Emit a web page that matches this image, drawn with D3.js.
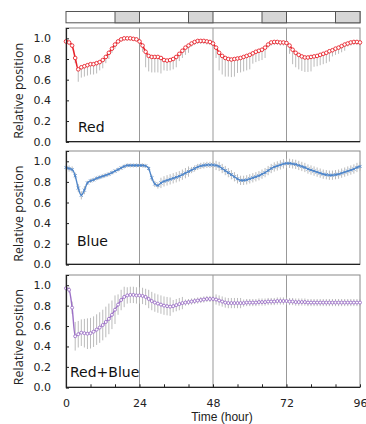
<!DOCTYPE html>
<html><head><meta charset="utf-8">
<script src="https://cdn.jsdelivr.net/npm/d3@7"></script>
<style>html,body{margin:0;padding:0;background:#fff;}svg{display:block;}</style>
</head><body>
<script>
const hours = d3.range(0, 97);
const xTicks = [0, 24, 48, 72, 96];
const yTicks = [0, 0.2, 0.4, 0.6, 0.8, 1.0];
const darkPeriods = [[16, 24], [40, 48], [64, 72], [88, 96]];
const panelNames = ["Red", "Blue", "Red+Blue"];

const redValues = [0.97,0.96,0.93,0.81,0.70,0.72,0.73,0.74,0.75,0.75,0.76,0.77,0.79,0.82,0.86,0.90,0.94,0.97,0.99,1.0,1.0,1.0,0.995,0.99,0.97,
0.93,0.87,0.83,0.82,0.82,0.82,0.81,0.79,0.785,0.79,0.80,0.82,0.85,0.88,0.91,0.93,0.95,0.965,0.975,0.975,0.975,0.97,0.965,0.95,
0.91,0.86,0.83,0.81,0.80,0.795,0.80,0.805,0.81,0.82,0.83,0.84,0.855,0.87,0.88,0.89,0.91,0.94,0.96,0.965,0.965,0.96,0.96,0.955,
0.93,0.89,0.86,0.84,0.825,0.815,0.815,0.82,0.825,0.83,0.84,0.85,0.86,0.875,0.885,0.90,0.91,0.925,0.94,0.95,0.96,0.965,0.965,0.96];
const redErr = [0.02,0.02,0.02,0.05,0.12,0.10,0.10,0.10,0.10,0.10,0.10,0.08,0.08,0.06,0.06,0.04,0.04,0.02,0.02,0.02,0.02,0.02,0.02,0.02,0.02,
0.06,0.15,0.15,0.15,0.15,0.15,0.15,0.10,0.10,0.10,0.10,0.10,0.07,0.07,0.07,0.07,0.03,0.03,0.03,0.03,0.03,0.03,0.03,0.03,
0.10,0.17,0.18,0.18,0.17,0.17,0.17,0.14,0.14,0.14,0.14,0.14,0.10,0.10,0.10,0.10,0.10,0.03,0.03,0.03,0.03,0.03,0.03,0.03,
0.08,0.14,0.14,0.14,0.14,0.14,0.14,0.14,0.10,0.10,0.10,0.10,0.10,0.10,0.06,0.06,0.06,0.06,0.06,0.03,0.03,0.03,0.03,0.03];

const blueValues = [0.94,0.93,0.92,0.86,0.74,0.67,0.72,0.79,0.81,0.82,0.835,0.845,0.855,0.865,0.875,0.89,0.905,0.92,0.935,0.95,0.96,0.96,0.96,0.96,0.96,
0.96,0.955,0.93,0.84,0.78,0.765,0.79,0.805,0.815,0.825,0.835,0.845,0.855,0.87,0.885,0.90,0.915,0.93,0.945,0.955,0.96,0.965,0.965,0.965,
0.96,0.95,0.93,0.91,0.89,0.87,0.85,0.83,0.815,0.815,0.82,0.83,0.84,0.85,0.86,0.875,0.89,0.91,0.93,0.945,0.955,0.965,0.975,0.98,
0.98,0.975,0.97,0.96,0.95,0.94,0.925,0.915,0.905,0.895,0.885,0.875,0.87,0.865,0.865,0.87,0.875,0.885,0.895,0.905,0.915,0.925,0.94,0.95];
const blueErr = [0.03,0.03,0.03,0.03,0.04,0.04,0.04,0.02,0.02,0.02,0.02,0.02,0.02,0.02,0.02,0.02,0.02,0.02,0.02,0.02,0.02,0.02,0.02,0.02,0.02,
0.02,0.02,0.02,0.03,0.03,0.03,0.05,0.05,0.05,0.05,0.05,0.05,0.05,0.05,0.05,0.05,0.03,0.03,0.03,0.03,0.03,0.03,0.03,0.03,
0.045,0.045,0.045,0.045,0.045,0.045,0.045,0.045,0.045,0.045,0.045,0.045,0.045,0.045,0.045,0.045,0.045,0.045,0.045,0.045,0.045,0.045,0.045,0.045,
0.045,0.045,0.045,0.045,0.045,0.045,0.045,0.045,0.045,0.045,0.045,0.045,0.045,0.045,0.045,0.045,0.045,0.045,0.045,0.045,0.045,0.045,0.045,0.045];

const mixValues = [0.97,0.955,0.78,0.50,0.52,0.535,0.53,0.525,0.53,0.545,0.565,0.585,0.61,0.64,0.67,0.71,0.76,0.81,0.855,0.885,0.90,0.905,0.905,0.90,0.90,
0.895,0.885,0.865,0.845,0.83,0.82,0.81,0.80,0.795,0.79,0.795,0.805,0.815,0.825,0.83,0.835,0.84,0.845,0.85,0.855,0.86,0.865,0.865,0.865,
0.86,0.85,0.84,0.83,0.825,0.825,0.825,0.825,0.825,0.825,0.83,0.83,0.83,0.83,0.835,0.835,0.835,0.84,0.84,0.84,0.845,0.845,0.845,0.845,
0.84,0.84,0.835,0.835,0.835,0.835,0.83,0.83,0.83,0.83,0.83,0.83,0.83,0.83,0.83,0.83,0.83,0.83,0.83,0.83,0.83,0.83,0.83,0.83];
const mixErr = [0.02,0.03,0.06,0.14,0.13,0.13,0.14,0.15,0.15,0.15,0.15,0.15,0.15,0.15,0.15,0.14,0.14,0.10,0.10,0.10,0.08,0.08,0.08,0.08,0.08,
0.08,0.08,0.09,0.09,0.09,0.09,0.09,0.09,0.09,0.09,0.06,0.06,0.06,0.06,0.03,0.03,0.03,0.03,0.03,0.03,0.03,0.03,0.03,0.03,
0.05,0.05,0.05,0.05,0.05,0.05,0.05,0.05,0.05,0.035,0.035,0.035,0.035,0.035,0.035,0.035,0.035,0.035,0.035,0.035,0.035,0.035,0.035,0.035,
0.035,0.035,0.035,0.035,0.035,0.035,0.035,0.035,0.035,0.035,0.035,0.035,0.035,0.035,0.035,0.035,0.035,0.035,0.035,0.035,0.035,0.035,0.035,0.035];

const W = 366, H = 424;
const svg = d3.select("body").append("svg").attr("width", W).attr("height", H)
  .style("font-family", "'DejaVu Sans', sans-serif");

const x = d3.scaleLinear().domain([0, 96]).range([66, 360]);

// light/dark bar
const barTop = 11.5, barH = 11.3;
svg.append("rect").attr("x", x(0)).attr("y", barTop).attr("width", x(96) - x(0)).attr("height", barH)
  .attr("fill", "#fff").attr("stroke", "#555").attr("stroke-width", 1);
darkPeriods.forEach(d => {
  svg.append("rect").attr("x", x(d[0])).attr("y", barTop).attr("width", x(d[1]) - x(d[0])).attr("height", barH)
    .attr("fill", "#d6d6d6").attr("stroke", "#555").attr("stroke-width", 1);
});

const panels = [
  {name: panelNames[0], top: 28, bottom: 141.7, values: redValues, err: redErr, lower: true, color: "#e8232b", marker: "circle", labelX: 78, labelY: 132},
  {name: panelNames[1], top: 151, bottom: 264.3, values: blueValues, err: blueErr, lower: false, color: "#4f86c9", marker: "times", labelX: 77, labelY: 246},
  {name: panelNames[2], top: 275, bottom: 387.3, values: mixValues, err: mixErr, lower: false, color: "#9c70c6", marker: "circle", labelX: 70, labelY: 377}
];

panels.forEach((p, pi) => {
  const y = d3.scaleLinear().domain([0, 1.1]).range([p.bottom, p.top]);
  const g = svg.append("g");
  g.append("rect").attr("x", x(0)).attr("y", p.top).attr("width", x(96) - x(0)).attr("height", p.bottom - p.top)
    .attr("fill", "none").attr("stroke", "#8a8a8a").attr("stroke-width", 1);
  [24, 48, 72].forEach(h => {
    g.append("line").attr("x1", x(h)).attr("x2", x(h)).attr("y1", p.top).attr("y2", p.bottom)
      .attr("stroke", "#999").attr("stroke-width", 1);
  });
  g.append("g").selectAll("line").data(hours).join("line")
    .attr("x1", h => x(h)).attr("x2", h => x(h))
    .attr("y1", h => y(p.values[h] - p.err[h]))
    .attr("y2", h => p.lower ? y(p.values[h]) : y(p.values[h] + p.err[h]))
    .attr("stroke", "#b3b3b3").attr("stroke-width", 0.9);
  g.append("path").datum(hours)
    .attr("d", d3.line().x(h => x(h)).y(h => y(p.values[h])).curve(d3.curveMonotoneX))
    .attr("fill", "none").attr("stroke", p.color).attr("stroke-width", pi === 0 ? 1.6 : 1.4);
  if (p.marker === "circle") {
    g.append("g").selectAll("circle").data(hours).join("circle")
      .attr("cx", h => x(h)).attr("cy", h => y(p.values[h])).attr("r", pi === 0 ? 1.8 : 1.5)
      .attr("fill", "#fff").attr("stroke", p.color).attr("stroke-width", 0.9);
  } else {
    const sym = d3.symbol().type(d3.symbolTimes).size(7);
    g.append("g").selectAll("path").data(hours).join("path")
      .attr("transform", h => `translate(${x(h)},${y(p.values[h])})`)
      .attr("d", sym).attr("fill", "none").attr("stroke", p.color).attr("stroke-width", 0.9);
  }
  const ya = g.append("g").attr("transform", `translate(${x(0)},0)`)
    .call(d3.axisLeft(y).tickValues(yTicks).tickFormat(d3.format(".1f")).tickSize(-3).tickPadding(15));
  ya.select(".domain").attr("stroke", "#222").attr("stroke-width", 1.2);
  ya.selectAll(".tick line").attr("stroke", "#222");
  ya.selectAll(".tick text").attr("font-size", 11).attr("fill", "#222").style("font-family", "'DejaVu Sans', sans-serif");
  g.append("line").attr("x1", x(0)).attr("x2", x(96)).attr("y1", p.bottom).attr("y2", p.bottom)
    .attr("stroke", "#222").attr("stroke-width", 1.2);
  const cy = (p.top + p.bottom) / 2 + 6;
  g.append("text").attr("transform", `translate(18,${cy}) rotate(-90)`)
    .attr("text-anchor", "middle").attr("dominant-baseline", "central")
    .attr("font-size", 12.5).attr("fill", "#222").style("font-family", "'Open Sans', sans-serif")
    .text("Relative position");
  g.append("text").attr("x", p.labelX).attr("y", p.labelY).attr("font-size", 14).attr("fill", "#111")
    .text(p.name);

  if (pi === 2) {
    const minor = g.append("g").attr("transform", `translate(0,${p.bottom})`)
      .call(d3.axisBottom(x).tickValues(d3.range(0, 97, 8)).tickFormat("").tickSize(-3));
    minor.select(".domain").remove();
    minor.selectAll(".tick line").attr("stroke", "#222");
    const xa = g.append("g").attr("transform", `translate(0,${p.bottom})`)
      .call(d3.axisBottom(x).tickValues(xTicks).tickFormat(d3.format("d")).tickSize(0).tickPadding(11.5));
    xa.select(".domain").remove();
    xa.selectAll(".tick text").attr("font-size", 11).attr("fill", "#222").style("font-family", "'DejaVu Sans', sans-serif");
  }
});

svg.append("text").attr("x", 222).attr("y", 421).attr("text-anchor", "middle")
  .attr("font-size", 12).attr("fill", "#222").style("font-family", "'Liberation Sans', sans-serif")
  .text("Time (hour)");
</script>
</body></html>
